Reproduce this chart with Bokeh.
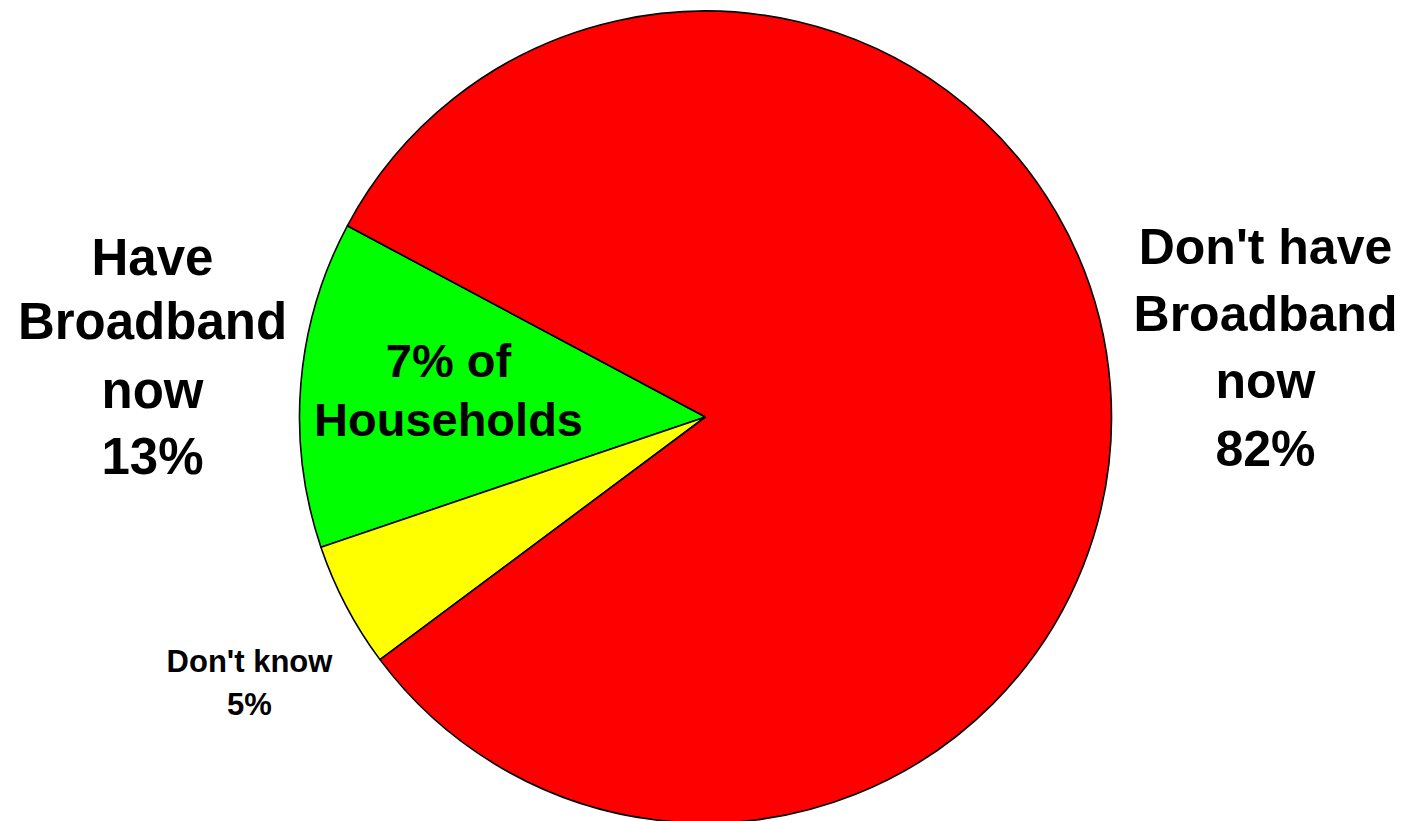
import math
from bokeh.plotting import figure
from bokeh.models import ColumnDataSource, Range1d
from bokeh.core.properties import value
from bokeh.embed import file_html
from bokeh.resources import INLINE

# ---- data ----
categories = ["Have Broadband now", "Don't know", "Don't have Broadband now"]
shares = [13, 5, 82]
colors = ["#00ff00", "#ffff00", "#ff0000"]
sub_share_text = ["7% of", "Households"]

left_label = ["Have", "Broadband", "now", "13%"]
right_label = ["Don't have", "Broadband", "now", "82%"]
dk_label = ["Don't know", "5%"]

W, H = 1401, 821
p = figure(width=W, height=H, output_backend="svg", toolbar_location=None,
           x_range=Range1d(0, W), y_range=Range1d(0, H), min_border=0)
p.axis.visible = False
p.grid.visible = False
p.outline_line_color = None
p.background_fill_color = "white"
p.border_fill_color = "white"

def py(page_y):
    return H - page_y

# wedges
start_deg = 151.9
total = sum(shares)
starts, ends = [], []
a = math.radians(start_deg)
for v in shares:
    starts.append(a)
    a = a + 2 * math.pi * v / total
    ends.append(a)

src = ColumnDataSource(dict(start=starts, end=ends, color=colors, cat=categories))
p.wedge(x=705, y=py(416.5), radius=406, start_angle="start", end_angle="end",
        fill_color="color", line_color="black", line_width=1.6, source=src)

font = value("Liberation Sans")

def add_lines(lines, cx, baselines, size):
    shift = 0.4 * size
    s = ColumnDataSource(dict(x=[cx] * len(lines), y=[py(b - shift) for b in baselines], t=lines))
    p.text(x="x", y="y", text="t", source=s, text_font=font, text_font_style="bold",
           text_font_size=f"{size}px", text_align="center", text_baseline="alphabetic",
           text_color="black")

add_lines(left_label, 152, [277, 341.7, 410, 476.7], 51)
add_lines(right_label, 1265, [266.7, 333.3, 400, 468.3], 50)
add_lines(sub_share_text, 448, [378.3, 437.3], 47)
add_lines(dk_label, 249, [673.3, 716.7], 31)

open("out.html", "w").write(file_html(p, INLINE))
